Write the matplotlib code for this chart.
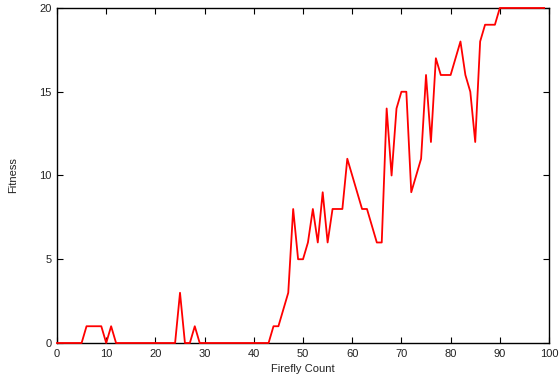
import matplotlib
matplotlib.use('Agg')
import matplotlib.pyplot as plt

firefly_count = list(range(0, 100))
fitness = [
    0, 0, 0, 0, 0, 0, 1, 1, 1, 1,          # 0-9
    0, 1, 0, 0, 0, 0, 0, 0, 0, 0,          # 10-19
    0, 0, 0, 0, 0, 3, 0, 0, 1, 0,          # 20-29
    0, 0, 0, 0, 0, 0, 0, 0, 0, 0,          # 30-39
    0, 0, 0, 0, 1, 1, 2, 3, 8, 5,          # 40-49
    5, 6, 8, 6, 9, 6, 8, 8, 8, 11,         # 50-59
    10, 9, 8, 8, 7, 6, 6, 14, 10, 14,      # 60-69
    15, 15, 9, 10, 11, 16, 12, 17, 16, 16,  # 70-79
    16, 17, 18, 16, 15, 12, 18, 19, 19, 19,  # 80-89
    20, 20, 20, 20, 20, 20, 20, 20, 20, 20,  # 90-99
]
x_ticks = [0, 10, 20, 30, 40, 50, 60, 70, 80, 90, 100]
y_ticks = [0, 5, 10, 15, 20]


def main():
    plt.rcParams['font.family'] = ['Liberation Sans', 'DejaVu Sans']
    fig = plt.figure(figsize=(5.6, 3.84), dpi=100)
    ax = fig.add_axes([0.1018, 0.1068, 0.8786, 0.8724])

    # draw the line over the frame so the top plateau stays visible
    ax.plot(firefly_count, fitness, color='#ff0000', lw=1.3,
            clip_on=False, zorder=5)

    ax.set_xlim(0, 100)
    ax.set_ylim(0, 20)
    ax.set_xticks(x_ticks)
    ax.set_yticks(y_ticks)
    ax.tick_params(direction='in', top=True, right=True, length=4,
                   width=0.8, labelsize=8, pad=4, labelcolor='#222222')
    for s in ax.spines.values():
        s.set_linewidth(1.0)

    ax.set_xlabel('Firefly Count', fontsize=8, labelpad=4, color='#222222')
    ax.set_ylabel('Fitness', fontsize=8, labelpad=15, color='#222222')

    fig.savefig('out.png', dpi=100)


if __name__ == '__main__':
    main()
